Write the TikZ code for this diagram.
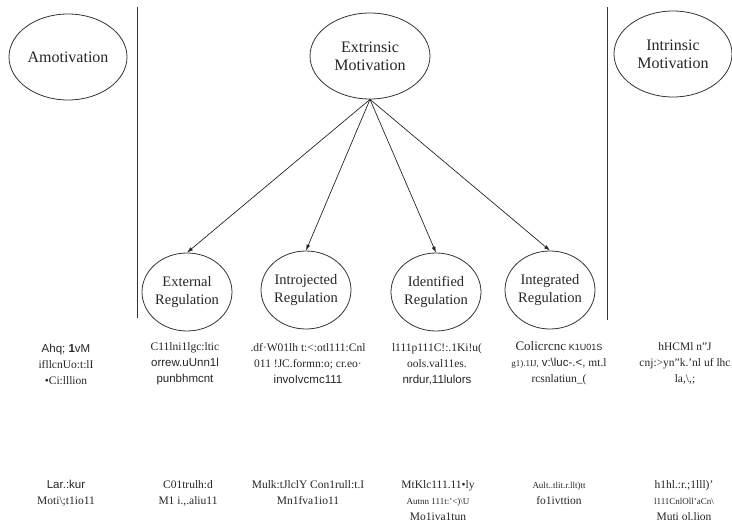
\documentclass[tikz,border=0pt]{standalone}
\usepackage{fontspec}
\setmainfont{Liberation Serif}
\setsansfont{Liberation Sans}
\usetikzlibrary{arrows.meta,shapes.geometric}
\begin{document}
\begin{tikzpicture}[x=1pt,y=-1pt,
  oval/.style={ellipse,draw=black!80,line width=0.8pt,inner sep=0pt,align=center,font=\fontsize{16}{18}\selectfont,text=black!85},
  regoval/.style={ellipse,draw=black!80,line width=0.8pt,minimum width=80pt,minimum height=78pt,inner sep=0pt,align=center,font=\fontsize{14.5}{18}\selectfont,text=black!85},
  divider/.style={draw=black!80,line width=0.9pt},
  link/.style={draw=black!85,line width=0.7pt,-{Latex[length=6pt,width=4pt]}},
  garb/.style={align=center,inner sep=0pt,font=\fontsize{11.5}{16}\selectfont,text=black!85}]
\useasboundingbox (0,0) rectangle (732,524);
% top ellipses
\node[oval,minimum width=118pt,minimum height=86pt] (amot) at (68,57) {Amotivation};
\node[oval,minimum width=120pt,minimum height=86pt] (extr) at (370,56) {Extrinsic\\Motivation};
\node[oval,minimum width=118pt,minimum height=86pt] (intr) at (673,54) {Intrinsic\\Motivation};
% dividers
\coordinate (l1) at (137,7); \coordinate (l2) at (137,318);
\coordinate (r1) at (607,7); \coordinate (r2) at (607,320);
\draw[divider] (l1) -- (l2);
\draw[divider] (r1) -- (r2);
% regulation ellipses
\node[regoval] (ext) at (187,292) {External\\Regulation};
\node[regoval] (intro) at (306,290) {Introjected\\Regulation};
\node[regoval] (ident) at (436,292) {Identified\\Regulation};
\node[regoval] (integ) at (550,290) {Integrated\\Regulation};
% arrows
\draw[link] (extr.south) -- (ext.north);
\draw[link] (extr.south) -- (intro.north);
\draw[link] (extr.south) -- (ident.north);
\draw[link] (extr.south) -- (integ.north);
% row 1 texts
\node[garb] (t11) at (66,364) {\sffamily Ahq; \textbf{1}vM\\ifllcnUo:t:lI\\•Ci:lllion};
\node[garb] (t12) at (185,364) {C11lni1lgc:ltic\\\sffamily orrew.uUnn1l\\\sffamily punbhmcnt};
\node[garb] (t13) at (308,364) {.df·W01lh t:<:otl111:Cnl\\011 !JC.formn:o; cr.eo·\\\sffamily invoIvcmc111};
\node[garb] (t14) at (437,364) {l111p111C!:.1Ki!u(\\ools.val11es.\\\sffamily nrdur,11lulors};
\node[garb] (t15) at (559,363) {{\fontsize{13}{16}\selectfont Colicrcnc} {\sffamily\fontsize{9}{16}\selectfont K1U01S}\\{\fontsize{9}{16}\selectfont g1).1IJ,} {\sffamily v:\textbackslash luc-.<,} mt.l\\rcsnlatiun\_(};
\node[garb] (t16) at (685,363) {hHCMl n"J\\cnj:>yn"k.'nl uf lhc\\la,\textbackslash,;};
% row 2 texts
\node[garb] (t21) at (66,493) {\sffamily Lar.:kur\\Moti\textbackslash;t1io11};
\node[garb] (t22) at (188,493) {C01trulh:d\\M1 i.,.aliu11};
\node[garb] (t23) at (308,493) {Mulk:tJlclY Con1rull:t.I\\Mn1fva1io11};
\node[garb] (t24) at (438,501) {MtKlc111.11•ly\\{\fontsize{9}{16}\selectfont Autnn 111t:'<)\textbackslash U}\\Mo1iva1tun};
\node[garb] (t25) at (559,493) {{\fontsize{9}{16}\selectfont Ault..tlit.r.llt)tt}\\fo1ivttion};
\node[garb] (t26) at (684,501) {h1hl.:r.;1lll)'\\{\fontsize{9}{16}\selectfont l111CnlOll'aCn\textbackslash}\\Muti ol.lion};
\end{tikzpicture}
\end{document}
